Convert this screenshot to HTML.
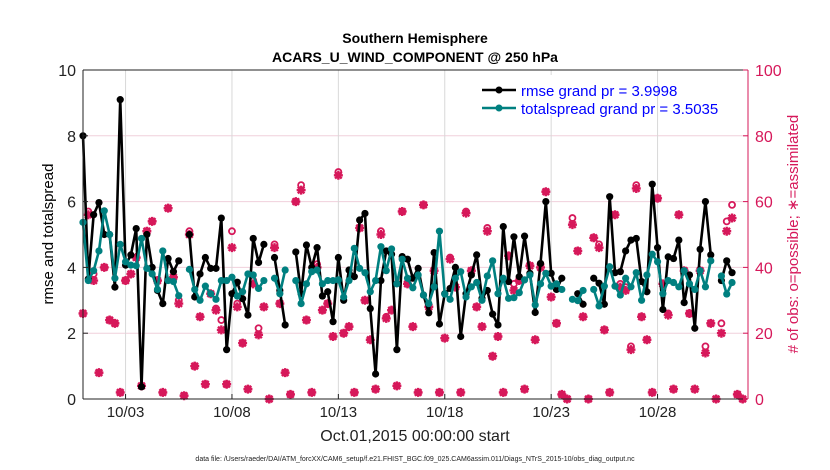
<!DOCTYPE html>
<html><head><meta charset="utf-8"><style>
body{margin:0;background:#fff;}
svg{display:block;font-family:"Liberation Sans",sans-serif;}
</style></head><body>
<svg id="chart" width="830" height="470">
<rect width="830" height="470" fill="#fff"/>
<text x="415" y="43" text-anchor="middle" font-size="14" font-weight="bold">Southern Hemisphere</text>
<text x="415" y="62" text-anchor="middle" font-size="14" font-weight="bold">ACARS_U_WIND_COMPONENT @ 250 hPa</text>
<g id="grid"></g>
<g id="obs"></g>
<g id="series"></g>
<g id="axes"></g>
<g>
<rect x="475" y="75" width="170" height="40" fill="#fff"/>
<line x1="482" y1="90" x2="516" y2="90" stroke="#000" stroke-width="2.5"/><circle cx="499" cy="90" r="3.5" fill="#000"/>
<text x="521" y="96" font-size="15" fill="#0000ff">rmse grand pr = 3.9998</text>
<line x1="482" y1="108" x2="516" y2="108" stroke="#008080" stroke-width="2.5"/><circle cx="499" cy="108" r="3.5" fill="#008080"/>
<text x="521" y="114" font-size="15" fill="#0000ff">totalspread grand pr = 3.5035</text>
</g>
<text transform="translate(53,234) rotate(-90)" text-anchor="middle" font-size="15">rmse and totalspread</text>
<text transform="translate(798,234) rotate(-90)" text-anchor="middle" font-size="15" fill="#d6185a"># of obs: o=possible; ∗=assimilated</text>
<text x="415" y="441" text-anchor="middle" font-size="16" fill="#222">Oct.01,2015 00:00:00 start</text>
<text x="415" y="461" text-anchor="middle" font-size="7" fill="#222">data file: /Users/raeder/DAI/ATM_forcXX/CAM6_setup/f.e21.FHIST_BGC.f09_025.CAM6assim.011/Diags_NTrS_2015-10/obs_diag_output.nc</text>
</svg>
<script>
const N=null;
const rmse=[8.0,3.65,5.6,5.97,5.0,5.0,3.4,9.1,4.07,4.38,5.18,0.37,5.0,4.0,3.3,2.9,4.27,3.87,4.2,N,5.0,3.1,3.8,4.3,3.97,3.97,5.5,1.5,3.2,3.55,3.05,2.55,4.88,4.15,4.7,N,4.3,3.3,2.25,N,4.47,3.2,4.68,4.0,4.6,3.13,3.26,2.35,4.3,3.0,3.92,3.72,5.44,5.64,2.75,0.76,3.6,4.5,4.4,1.5,4.33,4.25,3.67,3.97,3.16,2.62,4.45,2.28,3.2,3.36,4.0,1.9,3.2,3.77,4.38,3.06,3.3,2.58,2.25,5.24,3.57,4.93,3.72,4.95,3.82,2.63,4.12,6.0,3.82,3.33,3.67,N,N,3.2,2.88,N,3.67,3.52,2.88,6.15,3.84,3.87,4.5,4.83,4.88,3.57,3.26,6.53,4.6,2.72,4.32,4.27,4.83,2.93,3.77,2.15,4.55,6.0,4.38,N,3.6,4.2,3.84,N,N];
const spread=[5.37,3.6,3.9,4.5,5.72,5.0,3.67,4.7,4.17,4.07,4.05,4.88,3.97,3.8,3.33,4.5,3.6,3.57,3.14,N,3.94,3.33,3.0,3.43,3.2,3.03,3.6,3.6,3.7,3.13,3.26,3.8,3.77,3.36,3.6,N,3.67,3.2,3.92,N,3.6,2.9,3.5,3.87,3.92,3.5,3.6,3.6,3.62,3.1,3.6,4.58,3.97,3.84,3.26,3.6,4.63,3.9,4.56,3.5,4.25,3.67,3.38,3.77,3.16,2.9,3.41,5.1,3.19,3.03,3.67,3.87,3.1,3.41,3.54,3.0,3.74,4.2,3.2,3.67,3.06,3.08,3.23,3.62,3.77,2.86,3.5,3.82,3.43,3.5,3.33,N,3.03,2.99,3.3,N,3.33,2.83,3.43,4.02,3.43,3.16,3.67,3.41,3.84,3.0,3.77,4.4,4.17,3.2,3.6,3.54,3.41,3.9,3.5,3.33,3.9,3.41,4.2,N,3.74,3.19,3.54,N,N];
const assim=[26,56,36,8,40,24,23,2,36,38,43,4,51,54,36,2,58,37,29,1,50,10,25,4.5,32,27,21,4.5,46,28,17,3,35,19.5,28,0,46,29,8,1.4,60,63.5,24,2,40,27,29,19,68,20,22,2,52,30,18,3,50,24.5,27,4,57,35,22,2,59,28,39,2,18.5,42.5,34,2,56.5,39,28,22,51,13,19,2,43.5,33,36,3,40.5,18,40,63,31,23,1.4,0,53,45,25,0,49,46,21,2,56,34,33,15,64,25,18,2,61,35,25.5,3,56,39,26,3,39,14,23,0,20,51,55,1.4,0];
const possible=[26,57,38,8,40,24,23,2,36,38,43,4,51,54,36,2,58,37,30,1,51,10,25,4.5,32,27.5,24,4.5,51,29,17,3,36,21.5,28,0,47,29,8,1.4,60,65,24,2,41,27,29,19,69,20,22,2,52,30,18,3,51,25,27,4,57,35,22,2,59,28,39,2,18.5,43,34,2,57,39,28,22,52,13,19,2,43.5,35,36,3,40.5,18,41,63,31,23,1.4,0,55,45,25,0,49,47,21,2,56,35,34,16,65,25,18,2,61,35,26,3,56,39,26,3,39,16,23,0,23,54,59,1.4,0];
const xTicks=['10/03','10/08','10/13','10/18','10/23','10/28'];
const xTickDays=[2,7,12,17,22,27];
const yTicks=[0,2,4,6,8,10];
const y2Ticks=[0,20,40,60,80,100];

const L=83,R=748,T=70,B=399,days=31.25;
const xs=i=>L+(i*0.25)/days*(R-L);
const xd=d=>L+d/days*(R-L);
const ys=v=>B-v/10*(B-T);
const y2=v=>B-v/100*(B-T);
const NS='http://www.w3.org/2000/svg';
function mk(p,t,a){const e=document.createElementNS(NS,t);for(const k in a)e.setAttribute(k,a[k]);p.appendChild(e);return e;}
const grid=document.getElementById('grid'),obs=document.getElementById('obs'),ser=document.getElementById('series'),ax=document.getElementById('axes');
yTicks.slice(1,-1).forEach(v=>{const l=mk(grid,'line',{x1:L,x2:R,y1:ys(v),y2:ys(v),stroke:'#f0d0dc','stroke-width':1});

});
xTickDays.forEach((d,k)=>{const l=mk(grid,'line',{x1:xd(d),x2:xd(d),y1:T,y2:B,stroke:'#d8d8d8','stroke-width':1});


const t=mk(ax,'text',{x:xd(d),y:417,'text-anchor':'middle','font-size':15,fill:'#222'});t.textContent=xTicks[k];


mk(ax,'line',{x1:xd(d),x2:xd(d),y1:B,y2:B-5,stroke:'#222'});});
const red='#d6185a';
possible.forEach((v,i)=>{if(v==null)return;const c=mk(obs,'circle',{cx:xs(i),cy:y2(v),r:3,fill:'none',stroke:red,'stroke-width':1.8});

});
assim.forEach((v,i)=>{if(v==null)return;const x=xs(i),y=y2(v);
const g=mk(obs,'path',{d:`M${x-4.5},${y}H${x+4.5}M${x},${y-4.5}V${y+4.5}M${x-3.3},${y-3.3}L${x+3.3},${y+3.3}M${x-3.3},${y+3.3}L${x+3.3},${y-3.3}`,stroke:red,'stroke-width':2.4});

});
function line(arr,col,name){let d='';let pen=false;arr.forEach((v,i)=>{if(v==null){pen=false;return;}d+=(pen?'L':'M')+xs(i)+','+ys(v);pen=true;});
const p=mk(ser,'path',{d:d,fill:'none',stroke:col,'stroke-width':2.6,'stroke-linejoin':'round'});


arr.forEach((v,i)=>{if(v==null)return;const c=mk(ser,'circle',{cx:xs(i),cy:ys(v),r:3.6,fill:col});

});}
line(rmse,'#000','rmse');
line(spread,'#008080','totalspread');
mk(ax,'line',{x1:L,x2:R,y1:T,y2:T,stroke:'#222'});
mk(ax,'line',{x1:L,x2:R,y1:B,y2:B,stroke:'#222'});
mk(ax,'line',{x1:L,x2:L,y1:T,y2:B,stroke:'#222'});
mk(ax,'line',{x1:R,x2:R,y1:T,y2:B,stroke:red});
yTicks.forEach(v=>{const t=mk(ax,'text',{x:L-7,y:ys(v)+6,'text-anchor':'end','font-size':16,fill:'#222'});t.textContent=v;


mk(ax,'line',{x1:L,x2:L+5,y1:ys(v),y2:ys(v),stroke:'#222'});});
y2Ticks.forEach(v=>{const t=mk(ax,'text',{x:R+7,y:y2(v)+6,'font-size':16,fill:red});t.textContent=v;


mk(ax,'line',{x1:R-5,x2:R,y1:y2(v),y2:y2(v),stroke:red});});
</script>
</body></html>
